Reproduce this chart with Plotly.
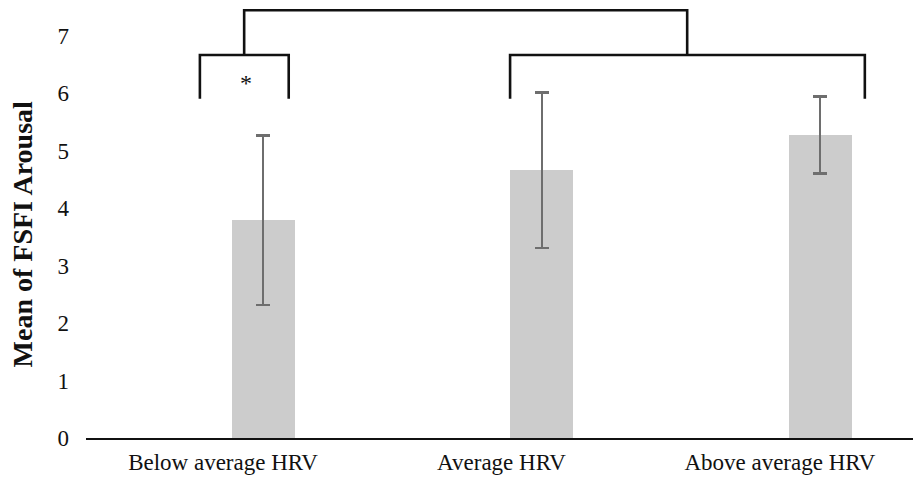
import plotly.graph_objects as go

categories = ["Below average HRV", "Average HRV", "Above average HRV"]
means = [3.79, 4.66, 5.27]
errors = [1.47, 1.35, 0.67]
y_ticks = [0, 1, 2, 3, 4, 5, 6, 7]

FONT = "Liberation Serif"

fig = go.Figure()
fig.add_trace(go.Bar(
    x=categories, y=means,
    offset=0.032, width=0.226,
    marker=dict(color="#cccccc", line=dict(width=0)),
    error_y=dict(type="data", array=errors, visible=True,
                 color="#6e6e6e", thickness=2.2, width=7),
    showlegend=False,
))

blk = dict(color="#111111", width=2.6)
# bracket 1 (Below average)
fig.add_shape(type="path", xref="x", yref="y",
              path="M -0.083 5.90 L -0.083 6.66 L 0.236 6.66 L 0.236 5.90",
              line=blk)
# bracket 2 (Average + Above)
fig.add_shape(type="path", xref="x", yref="y",
              path="M 1.031 5.90 L 1.031 6.66 L 2.305 6.66 L 2.305 5.90",
              line=blk)
# top bracket
fig.add_shape(type="path", xref="x", yref="y",
              path="M 0.076 6.66 L 0.076 7.44 L 1.667 7.44 L 1.667 6.66",
              line=blk)

fig.add_annotation(x=0.083, y=6.18, xref="x", yref="y", text="*",
                   showarrow=False, font=dict(family=FONT, size=24, color="#111111"))

fig.add_annotation(x=-0.0768, y=0.467, xref="paper", yref="paper",
                   xanchor="center", yanchor="middle",
                   text="<b>Mean of FSFI Arousal</b>", textangle=-90,
                   showarrow=False,
                   font=dict(family=FONT, size=28, color="#111111"))

fig.update_layout(
    width=913, height=483,
    margin=dict(l=86, r=0, t=1, b=45),
    plot_bgcolor="white", paper_bgcolor="white",
    font=dict(family=FONT, size=23, color="#111111"),
    bargap=0,
)
fig.update_xaxes(range=[-0.492, 2.478], showgrid=False, showline=True,
                 linecolor="#111111", linewidth=2, ticks="",
                 tickfont=dict(family=FONT, size=23, color="#111111"),
                 ticklabelstandoff=2, zeroline=False)
fig.update_yaxes(range=[0, 7.6], tickvals=y_ticks, showgrid=False,
                 showline=False, zeroline=False, ticks="",
                 tickfont=dict(family=FONT, size=23, color="#111111"),
                 ticklabelstandoff=16)

fig.write_html("out.html")
